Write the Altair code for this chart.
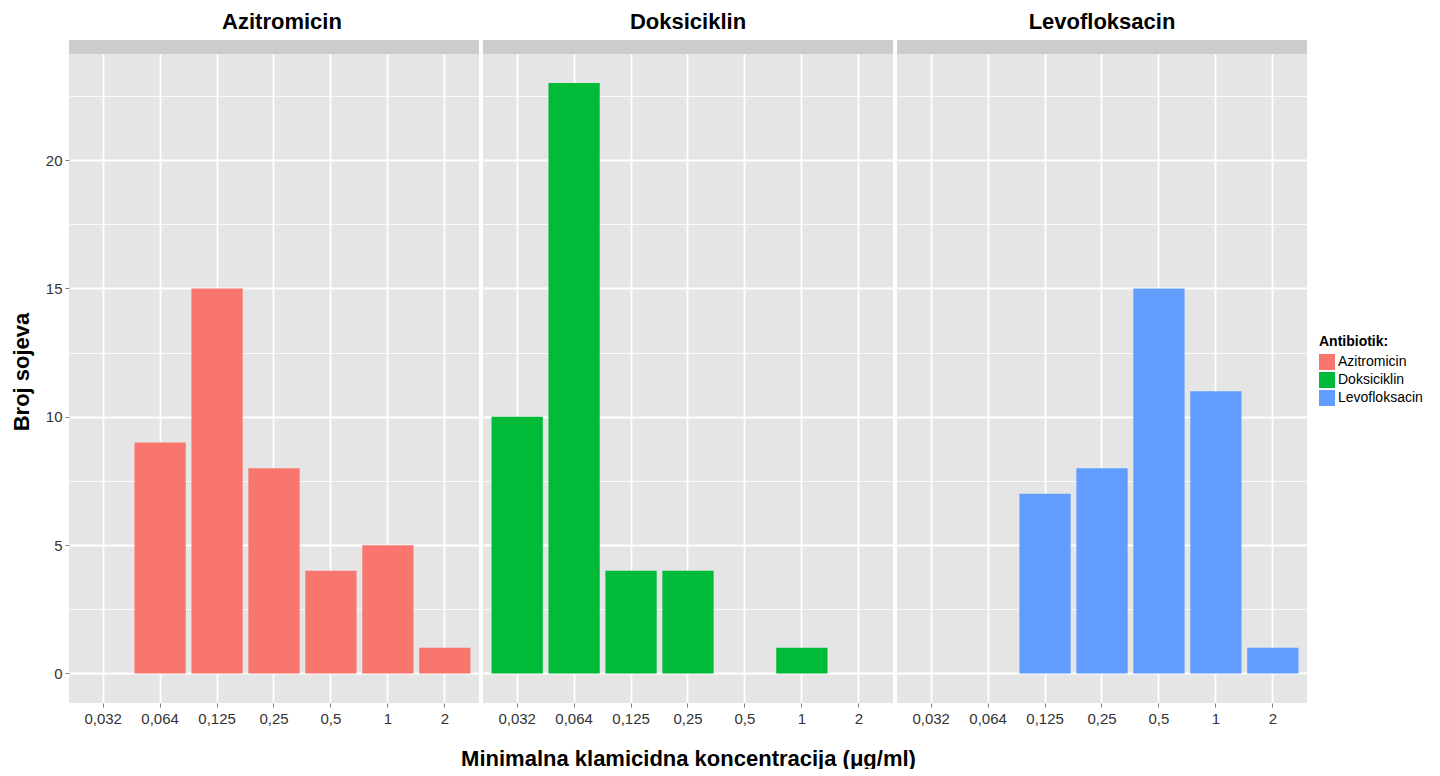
import altair as alt
import pandas as pd

# ---- data ----
categories = ["0,032", "0,064", "0,125", "0,25", "0,5", "1", "2"]
antibiotics = ["Azitromicin", "Doksiciklin", "Levofloksacin"]

azi_conc = ["0,064", "0,125", "0,25", "0,5", "1", "2"]
azi_counts = [9, 15, 8, 4, 5, 1]

dok_conc = ["0,032", "0,064", "0,125", "0,25", "1"]
dok_counts = [10, 23, 4, 4, 1]

levo_conc = ["0,125", "0,25", "0,5", "1", "2"]
levo_counts = [7, 8, 15, 11, 1]

colors = ["#F8766D", "#00BA38", "#619CFF"]
y_ticks = [0, 2.5, 5, 7.5, 10, 12.5, 15, 17.5, 20, 22.5]

# ---- layout constants ----
W = 410
H = 663
STRIP = 14
Y_DOMAIN = [-1.15, 24.68]
FONT = "Liberation Sans"

panels = [
    ("Azitromicin", azi_conc, azi_counts),
    ("Doksiciklin", dok_conc, dok_counts),
    ("Levofloksacin", levo_conc, levo_counts),
]


def make_panel(idx, name, conc, counts):
    df = pd.DataFrame({"konc": conc, "broj": counts, "Antibiotik": [name] * len(conc)})
    first = idx == 0
    middle = idx == 1

    x_axis = alt.Axis(
        title="Minimalna klamicidna koncentracija (\u03bcg/ml)" if middle else None,
        labelAngle=0,
        bandPosition=0.5,
        grid=True,
        gridColor="white",
        gridWidth=1.8,
        tickColor="#7F7F7F",
        tickSize=4,
        tickWidth=1,
        domain=False,
        labelFont=FONT,
        labelFontSize=15,
        labelColor="#333333",
        labelPadding=4,
        titleFont=FONT,
        titleFontSize=22,
        titleFontWeight="bold",
        titleColor="black",
        titlePadding=22,
    )

    grid_width = {"condition": {"test": "datum.value % 5 === 0", "value": 1.8}, "value": 0.8}
    if first:
        y_axis = alt.Axis(
            title="Broj sojeva",
            values=y_ticks,
            labelExpr="datum.value % 5 === 0 ? datum.label : ''",
            grid=True,
            gridColor="white",
            gridWidth=grid_width,
            tickColor="#7F7F7F",
            tickOpacity={"condition": {"test": "datum.value % 5 === 0", "value": 1}, "value": 0},
            tickSize=4,
            domain=False,
            labelFont=FONT,
            labelFontSize=15,
            labelColor="#333333",
            labelPadding=3,
            titleFont=FONT,
            titleFontSize=22,
            titleFontWeight="bold",
            titleColor="black",
            titlePadding=12,
        )
    else:
        y_axis = alt.Axis(
            title=None,
            values=y_ticks,
            labels=False,
            ticks=False,
            domain=False,
            grid=True,
            gridColor="white",
            gridWidth=grid_width,
            minExtent=0,
            maxExtent=0,
        )

    bars = alt.Chart(df).mark_bar().encode(
        x=alt.X(
            "konc:N",
            scale=alt.Scale(domain=categories, paddingInner=0.1, paddingOuter=0.15),
            axis=x_axis,
            sort=categories,
        ),
        y=alt.Y("broj:Q", scale=alt.Scale(domain=Y_DOMAIN, nice=False, zero=False), axis=y_axis),
        color=alt.Color(
            "Antibiotik:N",
            scale=alt.Scale(domain=antibiotics, range=colors),
            legend=alt.Legend(
                title="Antibiotik:",
                orient="none",
                legendX=1250,
                legendY=295,
                titleFont=FONT,
                titleFontSize=14,
                titleFontWeight="bold",
                titleColor="black",
                labelFont=FONT,
                labelFontSize=14,
                labelColor="black",
                symbolType="square",
                symbolSize=256,
                symbolStrokeWidth=0,
                rowPadding=2,
                labelOffset=3,
                padding=0,
            ),
        ),
    )

    strip = alt.Chart(pd.DataFrame({"panel": [name]})).mark_rect(color="#CCCCCC").encode(
        x=alt.value(0), x2=alt.value(W), y=alt.value(0), y2=alt.value(STRIP)
    )

    return alt.layer(bars, strip).properties(
        width=W,
        height=H,
        title=alt.TitleParams(
            name,
            font=FONT,
            fontSize=22,
            fontWeight="bold",
            color="black",
            anchor="middle",
            offset=6,
            dx=8 if first else 0,
        ),
    )


chart = (
    alt.hconcat(*[make_panel(i, *p) for i, p in enumerate(panels)], spacing=4, bounds="flush")
    .resolve_scale(color="shared")
    .configure_view(fill="#E5E5E5", stroke=None)
    .configure_concat(spacing=4)
    .properties(padding={"left": 2, "top": 3, "right": 0, "bottom": 0}, background="white")
)

chart.save("out.html", embed_options={"renderer": "svg", "actions": False})
